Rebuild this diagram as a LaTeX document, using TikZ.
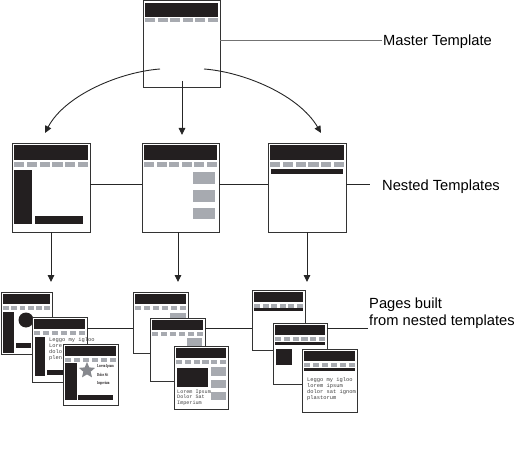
\documentclass[tikz,border=0pt]{standalone}
\usepackage{fontspec}
\setmainfont{Liberation Sans}
\newfontfamily\minimono{Liberation Mono}
\newfontfamily\miniserif{Liberation Serif}
\usetikzlibrary{shapes.geometric,arrows.meta,calc}
\definecolor{hdr}{HTML}{231F20}
\definecolor{tabg}{HTML}{A7AAB0}
\definecolor{frm}{HTML}{333333}
\tikzset{
 pageframe/.style={draw=frm, fill=white, line width=1pt, inner sep=0pt, outer sep=0pt, rectangle},
 conn/.style={draw=black!85, line width=0.9pt},
 arr/.style={conn, -{Triangle[length=7pt,width=6.5pt]}},
 lbl/.style={font=\fontsize{14.7}{17}\selectfont, inner sep=0pt, align=left},
 mono/.style={font=\minimono\fontsize{5.4}{6}\selectfont, inner sep=0pt, align=left, text=black!75},
 tiny/.style={font=\miniserif\bfseries\fontsize{4.6}{8.5}\selectfont, inner sep=0pt, align=left, text=hdr},
}
\newcommand\tpl[7]{%
 \node[pageframe, minimum width=#4pt, minimum height=#5pt, anchor=north west] (#1) at (#2,#3) {};
 \fill[hdr] ({#2+2},{#3+2}) rectangle ({#2+#4-2},{#3+2+#6});
 \pgfmathsetmacro\tw{(#4-4-5*2.5)/6}
 \foreach \i in {0,...,5}{\fill[tabg] ({#2+2+\i*(\tw+2.5)},{#3+3.5+#6}) rectangle ++(\tw,#7);}
}
\begin{document}
\begin{tikzpicture}[x=1pt,y=-1pt]
\useasboundingbox (0,0) rectangle (520,452);

% ---------- master ----------
\tpl{master}{143}{1}{77}{87}{14}{4}
\coordinate (mL) at (160,69);
\coordinate (mC) at (182,81);
\coordinate (mR) at (204,69);
\coordinate (tL) at (45,133);
\coordinate (tC) at (182,135);
\coordinate (tR) at (321,133);
\draw[arr] (mL) .. controls (120,72) and (65,95) .. (tL);
\draw[arr] (mC) -- (tC);
\draw[arr] (mR) .. controls (244,72) and (299,95) .. (tR);
\node[lbl, anchor=base west] (mlab) at (383,45.5) {Master Template};
\coordinate (mlend) at (382,40);
\draw[conn, draw=black!55] (mlend -| master.east) -- (mlend);

% ---------- nested ----------
\tpl{nl}{12}{143}{78}{89}{15}{5}
\fill[hdr] (14,170) rectangle (32,224);
\fill[hdr] (35,216) rectangle (83,224);
\tpl{nm}{142}{143}{77}{89}{15}{5}
\fill[tabg] (193,172) rectangle (215,184);
\fill[tabg] (193,190) rectangle (215,202);
\fill[tabg] (193,208) rectangle (215,219);
\tpl{nr}{268}{143}{78}{89}{15}{5}
\fill[hdr] (271,169) rectangle (343,174);
\coordinate (ny) at (0,184);
\coordinate (nlend) at (370,184);
\draw[conn] (ny -| nl.east) -- (ny -| nm.west);
\draw[conn] (ny -| nm.east) -- (ny -| nr.west);
\draw[conn] (ny -| nr.east) -- (nlend);
\node[lbl, anchor=base west] (nlab) at (382,190.5) {Nested Templates};

\coordinate (by) at (0,282);
\draw[arr] (nl.south) -- (by -| nl.south);
\draw[arr] (178,232) coordinate (nmb) -- (by -| nmb);
\draw[arr] (nr.south) -- (by -| nr.south);

% ---------- group 1 ----------
\tpl{pA}{1}{292}{51}{62}{10}{4}
\fill[hdr] (3,312) rectangle (14,353);
\node[circle, fill=hdr, minimum size=15pt, inner sep=0pt] (Acirc) at (26,320) {};
\fill[hdr] (16,343) rectangle (31,348);

\tpl{pB}{32}{317}{55}{65}{10}{4}
\fill[hdr] (35,337) rectangle (45,376);
\fill[hdr] (47,370) rectangle (84,375);
\node[mono, anchor=north west] (Btxt) at (49,337.3) {Leggo my igloo\\Lore\\dolo\\plen};

\tpl{pC}{63}{344}{55}{61}{10}{4}
\fill[hdr] (65,363) rectangle (77,400);
\node[star, star points=5, star point ratio=2.2, fill=tabg!80!black, minimum size=17pt, inner sep=0pt] (Cstar) at (87,370.5) {};
\fill[hdr] (78,395) rectangle (113,400);
\node[tiny, anchor=north west] (Ctxt) at (97,364.5) {\scalebox{0.62}[1]{Lorem Ipsum}\\\scalebox{0.62}[1]{Dolor Sit}\\\scalebox{0.62}[1]{Imperium}};

% ---------- group 2 ----------
\tpl{pD}{133}{292}{55}{61}{10}{4}
\fill[tabg] (170,313) rectangle (186,325);

\tpl{pE}{150}{318}{55}{63}{10}{4}
\fill[tabg] (187,338) rectangle (202,350);

\tpl{pF}{174}{346}{54}{63}{10}{4}
\fill[hdr] (177,368) rectangle (208,387);
\fill[tabg] (211,367) rectangle (226,376);
\fill[tabg] (211,380) rectangle (226,388);
\fill[tabg] (211,392) rectangle (226,400);
\node[mono, anchor=north west, font=\minimono\fontsize{5.1}{5.6}\selectfont] (Ftxt) at (177,389.5) {Lorem Ipsum\\Dolor Sat\\Imperium};

% ---------- group 3 ----------
\tpl{pG}{252}{290}{53}{60}{10}{4}
\fill[hdr] (254,308) rectangle (303,311);

\tpl{pH}{273}{323}{54}{61}{10}{4}
\fill[hdr] (275,342) rectangle (325,345);
\fill[hdr] (276,349) rectangle (292,365);

\tpl{pI}{302}{349}{55}{63}{10}{4}
\fill[hdr] (304,368) rectangle (355,371);
\node[mono, anchor=north west] (Itxt) at (307,377.5) {Leggo my igloo\\lorem ipsum\\dolor sat ignom\\plastorum};

% ---------- page connectors ----------
\coordinate (py) at (0,328);
\coordinate (plend) at (368,328);
\draw[conn] (py -| pB.east) -- (py -| pD.west);
\draw[conn] (py -| pE.east) -- (py -| pG.west);
\draw[conn] (py -| pH.east) -- (plend);
\node[lbl, anchor=base west] (plab) at (369,325.5) {Pages built\\from nested templates};
\end{tikzpicture}
\end{document}
